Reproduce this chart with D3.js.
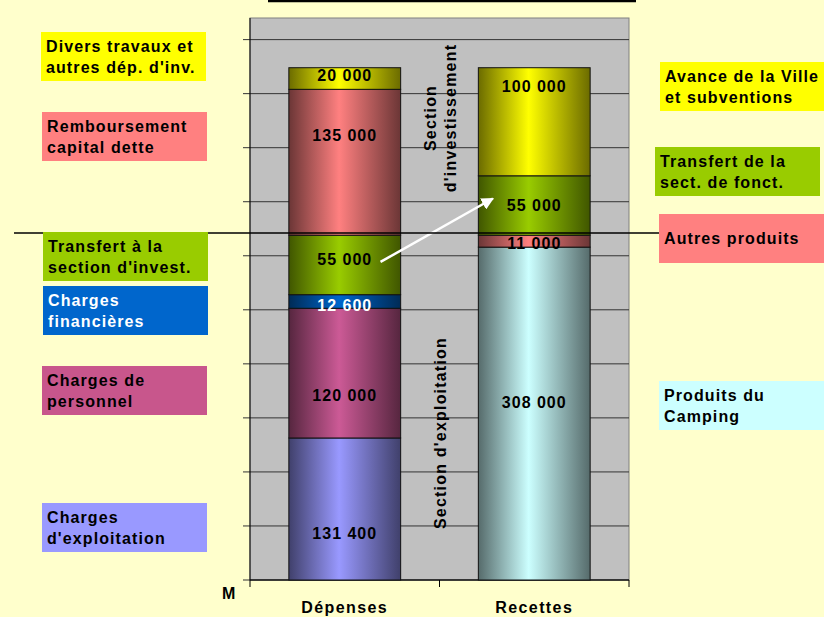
<!DOCTYPE html>
<html>
<head>
<meta charset="utf-8">
<script src="https://cdn.jsdelivr.net/npm/d3@7"></script>
<style>
  body { margin: 0; background: #FFFFCC; }
  svg { display: block; font-family: "Liberation Sans", Arial, sans-serif; font-weight: bold; }
</style>
</head>
<body>
<svg id="chart" width="824" height="617"></svg>
<script>
// data
const categories = ["Dépenses", "Recettes"];

const depensesNames = ["Charges d'exploitation", "Charges de personnel", "Charges financières",
  "Transfert à la section d'invest.", "Remboursement capital dette", "Divers travaux et autres dép. d'inv."];
const depensesValues = [131400, 120000, 12600, 55000, 135000, 20000];
const depensesColors = ["#9999FF", "#CC5A96", "#0066CC", "#99CC00", "#FF8080", "#FFFF00"];

const recettesNames = ["Produits du Camping", "Autres produits", "Transfert de la sect. de fonct.", "Avance de la Ville et subventions"];
const recettesValues = [308000, 11000, 55000, 100000];
const recettesColors = ["#CCFFFF", "#FF8080", "#99CC00", "#FFFF00"];

const yTicks = [0, 50000, 100000, 150000, 200000, 250000, 300000, 350000, 400000, 450000, 500000];

// value labels were nudged by hand in the original (px)
const depensesLabelShift = [24, 22, 4, -6, -27, -4];
const recettesLabelShift = [-12, 2, -1, -36];

// text boxes beside the chart
const boxLines = [
  ["Divers travaux et", "autres dép. d'inv."],
  ["Remboursement", "capital dette"],
  ["Transfert à la", "section d'invest."],
  ["Charges", "financières"],
  ["Charges de", "personnel"],
  ["Charges", "d'exploitation"],
  ["Avance de la Ville", "et subventions"],
  ["Transfert de la", "sect. de fonct."],
  ["Autres produits"],
  ["Produits du", "Camping"]
];
const boxColors = ["#FFFF00", "#FF8080", "#99CC00", "#0066CC", "#C8568C", "#9999FF",
  "#FFFF00", "#99CC00", "#FF8080", "#CCFFFF"];
const boxTextColors = ["#000", "#000", "#000", "#fff", "#000", "#000", "#000", "#000", "#000", "#000"];
const boxPos = [
  [41, 32], [42, 112], [43, 232], [43, 286], [42, 366], [42, 503],
  [660, 62], [655, 147], [659, 214], [659, 381]
];

const svg = d3.select("#chart");
const plot = {left: 250, right: 629, top: 18, bottom: 580};

const y = d3.scaleLinear().domain([0, 520000]).range([plot.bottom, plot.top]);
const x = d3.scaleBand().domain(categories).range([plot.left, plot.right])
  .paddingInner(0.41).paddingOuter(0.205);

const fmt = v => d3.format(",")(v).replace(/,/g, " ");

// gradients
const defs = svg.append("defs");
function gradId(color) {
  const id = "g" + color.replace("#", "");
  if (!defs.select("#" + id).empty()) return id;
  const c = d3.color(color);
  const dark = d3.rgb(c.r * 0.42, c.g * 0.42, c.b * 0.42);
  const g = defs.append("linearGradient").attr("id", id).attr("x1", 0).attr("x2", 1).attr("y1", 0).attr("y2", 0);
  g.append("stop").attr("offset", "0%").attr("stop-color", dark);
  g.append("stop").attr("offset", "45%").attr("stop-color", color);
  g.append("stop").attr("offset", "100%").attr("stop-color", dark);
  return id;
}

// plot area
svg.append("rect")
  .attr("x", plot.left).attr("y", plot.top)
  .attr("width", plot.right - plot.left).attr("height", plot.bottom - plot.top)
  .attr("fill", "#C0C0C0").attr("stroke", "#808080");

// gridlines + ticks
svg.append("g").selectAll("line")
  .data(yTicks)
  .join("line")
  .attr("x1", plot.left - 7).attr("x2", plot.right)
  .attr("y1", d => y(d)).attr("y2", d => y(d))
  .attr("stroke", "#333").attr("stroke-width", 1);

svg.append("line")
  .attr("x1", plot.left).attr("x2", plot.left)
  .attr("y1", plot.top).attr("y2", plot.bottom)
  .attr("stroke", "#000");

// x axis
svg.append("line")
  .attr("x1", plot.left).attr("x2", plot.right)
  .attr("y1", plot.bottom).attr("y2", plot.bottom)
  .attr("stroke", "#000");
svg.append("g").selectAll("line")
  .data([plot.left, (plot.left + plot.right) / 2, plot.right])
  .join("line")
  .attr("x1", d => d).attr("x2", d => d)
  .attr("y1", plot.bottom).attr("y2", plot.bottom + 7)
  .attr("stroke", "#000");

svg.append("g").selectAll("text")
  .data(categories)
  .join("text")
  .attr("x", d => x(d) + x.bandwidth() / 2)
  .attr("y", 613)
  .attr("text-anchor", "middle")
  .attr("font-size", 16)
  .attr("letter-spacing", 1.4)
  .text(d => d);

svg.append("text").attr("x", 222).attr("y", 599).attr("font-size", 16).text("M");

// stacked bars
function drawStack(cat, values, colors, textColors, shifts) {
  let acc = 0;
  const segs = values.map((v, i) => {
    const s = {y0: acc, y1: acc + v, v, color: colors[i], tc: textColors[i], dy: shifts[i]};
    acc += v;
    return s;
  });
  const g = svg.append("g");
  g.selectAll("rect")
    .data(segs)
    .join("rect")
    .attr("x", x(cat))
    .attr("width", x.bandwidth())
    .attr("y", d => y(d.y1))
    .attr("height", d => y(d.y0) - y(d.y1))
    .attr("fill", d => `url(#${gradId(d.color)})`)
    .attr("stroke", "#111")
    .attr("stroke-width", 1);
  g.selectAll("text")
    .data(segs)
    .join("text")
    .attr("x", x(cat) + x.bandwidth() / 2)
    .attr("y", d => (y(d.y0) + y(d.y1)) / 2 + 6 + d.dy)
    .attr("text-anchor", "middle")
    .attr("font-size", 16)
    .attr("letter-spacing", 1)
    .attr("fill", d => d.tc)
    .text(d => fmt(d.v));
}
drawStack("Dépenses", depensesValues, depensesColors, ["#000", "#000", "#fff", "#000", "#000", "#000"], depensesLabelShift);
drawStack("Recettes", recettesValues, recettesColors, ["#000", "#000", "#000", "#000"], recettesLabelShift);

// rotated section labels
svg.append("text")
  .attr("transform", "translate(436,118) rotate(-90)")
  .attr("text-anchor", "middle")
  .attr("font-size", 16).attr("letter-spacing", 1.2)
  .text("Section");
svg.append("text")
  .attr("transform", "translate(456,118) rotate(-90)")
  .attr("text-anchor", "middle")
  .attr("font-size", 16).attr("letter-spacing", 1.2)
  .text("d'investissement");
svg.append("text")
  .attr("transform", "translate(446,433) rotate(-90)")
  .attr("text-anchor", "middle")
  .attr("font-size", 16).attr("letter-spacing", 1.2)
  .text("Section d'exploitation");

// arrow between the two transfers
defs.append("marker")
  .attr("id", "arrow").attr("viewBox", "0 0 10 10")
  .attr("refX", 9).attr("refY", 5)
  .attr("markerWidth", 5).attr("markerHeight", 5)
  .attr("orient", "auto")
  .append("path").attr("d", "M0,0 L10,5 L0,10 z").attr("fill", "#fff");
const tIdx = depensesNames.indexOf("Transfert à la section d'invest.");
const rIdx = recettesNames.indexOf("Transfert de la sect. de fonct.");
const dMid = y(d3.sum(depensesValues.slice(0, tIdx)) + depensesValues[tIdx] / 2);
const rMid = y(d3.sum(recettesValues.slice(0, rIdx)) + recettesValues[rIdx] / 2);
svg.append("line")
  .attr("x1", x("Dépenses") + x.bandwidth() * 0.82).attr("y1", dMid - 3)
  .attr("x2", x("Recettes") + x.bandwidth() * 0.13).attr("y2", rMid - 7)
  .attr("stroke", "#fff").attr("stroke-width", 2.5)
  .attr("marker-end", "url(#arrow)");

// section divider line
svg.append("line")
  .attr("x1", 14).attr("x2", 659)
  .attr("y1", 233).attr("y2", 233)
  .attr("stroke", "#000").attr("stroke-width", 1.5);

// top title rule
svg.append("line")
  .attr("x1", 268).attr("x2", 636)
  .attr("y1", 1).attr("y2", 1)
  .attr("stroke", "#000").attr("stroke-width", 2.5);

// text boxes
const boxes = svg.append("g").selectAll("g")
  .data(boxLines.map((lines, i) => ({lines, color: boxColors[i], tc: boxTextColors[i], pos: boxPos[i]})))
  .join("g")
  .attr("transform", d => `translate(${d.pos[0]},${d.pos[1]})`);
boxes.append("rect")
  .attr("width", 165).attr("height", 49)
  .attr("fill", d => d.color);
boxes.each(function (d) {
  const g = d3.select(this);
  const n = d.lines.length;
  g.selectAll("text")
    .data(d.lines)
    .join("text")
    .attr("x", 5)
    .attr("y", (l, i) => n === 1 ? 30 : 20 + i * 21)
    .attr("font-size", 16)
    .attr("letter-spacing", 1.1)
    .attr("fill", d.tc)
    .text(l => l);
});
</script>
</body>
</html>
